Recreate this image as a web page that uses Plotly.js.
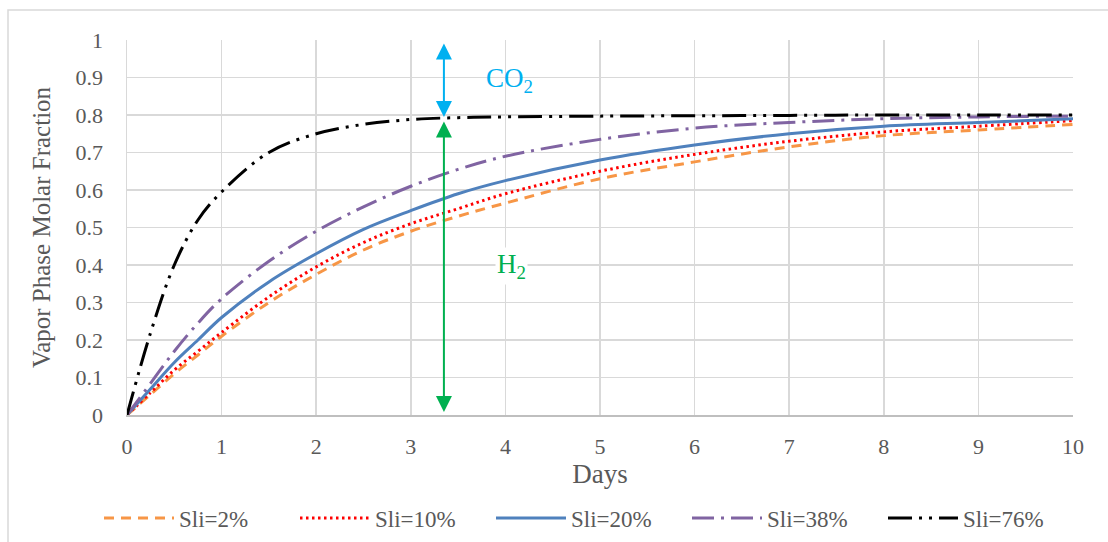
<!DOCTYPE html>
<html><head><meta charset="utf-8">
<script src="https://cdn.plot.ly/plotly-3.0.1.min.js"></script>
<style>html,body{margin:0;padding:0;background:#fff}#chart{width:1108px;height:542px}</style>
</head><body><div id="chart"></div>
<script>
const days = [0, 0.25, 0.5, 0.75, 1, 1.5, 2, 2.5, 3, 3.5, 4, 5, 6, 7, 8, 9, 10];
const sli2  = [0, 0.055, 0.11, 0.16, 0.21, 0.30, 0.375, 0.44, 0.49, 0.53, 0.565, 0.63, 0.675, 0.715, 0.745, 0.76, 0.775];
const sli10 = [0, 0.06, 0.12, 0.17, 0.22, 0.315, 0.395, 0.46, 0.51, 0.55, 0.59, 0.65, 0.695, 0.73, 0.755, 0.77, 0.785];
const sli20 = [0, 0.07, 0.14, 0.20, 0.26, 0.355, 0.43, 0.495, 0.545, 0.59, 0.625, 0.68, 0.72, 0.75, 0.77, 0.78, 0.79];
const sli38 = [0, 0.085, 0.17, 0.245, 0.31, 0.41, 0.49, 0.555, 0.61, 0.655, 0.69, 0.735, 0.765, 0.78, 0.79, 0.795, 0.797];
const sli76 = [0, 0.22, 0.40, 0.52, 0.595, 0.70, 0.75, 0.775, 0.788, 0.793, 0.795, 0.797, 0.798, 0.799, 0.8, 0.8, 0.8];
const seriesNames = ["Sli=2%", "Sli=10%", "Sli=20%", "Sli=38%", "Sli=76%"];
const arrowDay = 3.35;
const co2Range = [0.795, 0.995];
const h2Range = [0.008, 0.787];

const F = "Liberation Serif";
const styles = [
  {color:"#F79646", dash:"10px,7px"},
  {color:"#FF0000", dash:"2.5px,3.5px"},
  {color:"#4F81BD", dash:"solid"},
  {color:"#8064A2", dash:"22px,7px,3px,7px"},
  {color:"#000000", dash:"24px,7px,3px,7px,3px,7px"}
];
const ys = [sli2, sli10, sli20, sli38, sli76];
const traces = ys.map((y,i)=>({
  x: days, y: y, name: seriesNames[i], type:"scatter", mode:"lines",
  line:{color:styles[i].color, dash:styles[i].dash, width:3, shape:"spline", smoothing:1}
}));

const px = v => (v-127)/946, py = v => (415-v)/375;
const annotations = [
  {x:arrowDay, y:co2Range[0], ax:arrowDay, ay:co2Range[1], xref:"x", yref:"y", axref:"x", ayref:"y",
   showarrow:true, arrowhead:2, startarrowhead:2, arrowside:"end+start", arrowcolor:"#00B0F0", arrowwidth:2, arrowsize:1.6, text:""},
  {x:arrowDay, y:h2Range[0], ax:arrowDay, ay:h2Range[1], xref:"x", yref:"y", axref:"x", ayref:"y",
   showarrow:true, arrowhead:2, startarrowhead:2, arrowside:"end+start", arrowcolor:"#00B050", arrowwidth:2, arrowsize:1.6, text:""},
  {x:4.04, y:0.893, xref:"x", yref:"y", text:"CO<sub>2</sub>", showarrow:false, font:{family:F, size:27, color:"#00B0F0"}},
  {x:4.06, y:0.397, xref:"x", yref:"y", text:"H<sub>2</sub>", showarrow:false, font:{family:F, size:27, color:"#00B050"}, bgcolor:"#fff"}
];

const layout = {
  width:1108, height:542,
  margin:{l:127, r:35, t:40, b:127, autoexpand:false},
  paper_bgcolor:"#fff", plot_bgcolor:"#fff",
  font:{family:F, color:"#595959", size:22},
  showlegend:true,
  legend:{orientation:"h", x:px(99), xanchor:"left", y:py(518), yanchor:"middle",
          font:{family:F, size:23, color:"#595959"}, itemwidth:70, entrywidth:111, entrywidthmode:"pixels"},
  xaxis:{range:[0,10], dtick:1, tick0:0, showgrid:true, gridcolor:"#D9D9D9", gridwidth:1.5,
         zeroline:false, showline:true, linecolor:"#BFBFBF", linewidth:2, ticks:"", automargin:false, ticklabelstandoff:11,
         tickfont:{family:F, size:22, color:"#595959"},
         title:{text:"Days", font:{family:F, size:27, color:"#595959"}, standoff:5}},
  yaxis:{range:[0,1], dtick:0.1, tick0:0, showgrid:true, gridcolor:"#D9D9D9", gridwidth:1.5,
         zeroline:false, showline:true, linecolor:"#D9D9D9", linewidth:1.5, ticks:"", ticklabelstandoff:18, automargin:false,
         tickfont:{family:F, size:22, color:"#595959"},
         title:{text:"Vapor Phase Molar Fraction", font:{family:F, size:25, color:"#595959"}, standoff:18}},
  annotations: annotations,
  shapes:[{type:"rect", xref:"paper", yref:"paper", x0:px(8), x1:px(1130), y0:py(560), y1:py(10),
           line:{color:"#D9D9D9", width:1.5}, fillcolor:"rgba(0,0,0,0)", layer:"below"}]
};
Plotly.newPlot("chart", traces, layout, {displayModeBar:false, staticPlot:true});
</script></body></html>
